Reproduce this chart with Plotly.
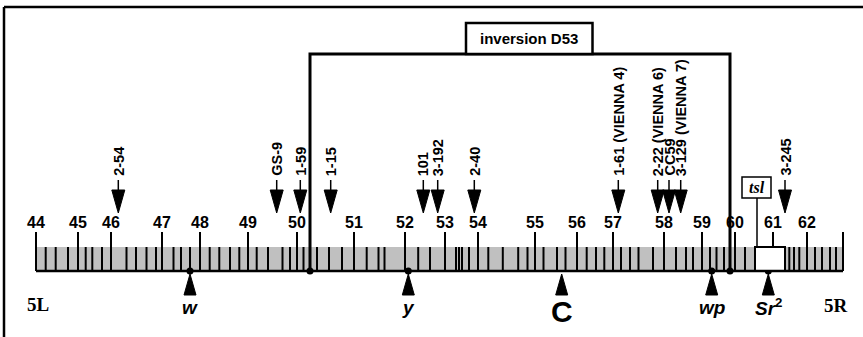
import plotly.graph_objects as go

# ---------------- data ----------------
# numbered divisions of the 5L/5R map and their positions along the map (map units)
division_labels = [str(n) for n in range(44, 63)]
division_pos = [36, 78, 111, 162, 200, 248, 297, 354, 405, 445, 478, 535, 577, 613, 664, 702, 735, 773, 807]
map_end = 843

# sub-division band boundaries
band_pos = [45.7, 55.7, 68, 85.7, 92.3, 102, 126.5, 136, 146.5, 156, 173.5, 181, 190,
            209.7, 219.3, 230, 239.3, 256.7, 268, 282.5, 290, 303.5, 317, 329, 342,
            366.7, 378.5, 384.5, 418.2, 430, 456, 459, 462, 469, 488.3, 502.8, 518.2,
            527.5, 543.5, 557, 565.5, 586.7, 596, 604.3, 621, 630, 638.5, 653, 676,
            686, 693, 710, 716.5, 724, 745, 789.3, 794, 799.3, 815, 822, 830, 836]

# insertion sites (arrows above the map)
insert_labels = ["2-54", "GS-9", "1-59", "1-15", "101", "3-192", "2-40",
                 "1-61 (VIENNA 4)", "2-22 (VIENNA 6)", "CC59", "3-129 (VIENNA 7)", "3-245"]
insert_pos = [118.3, 276.7, 300.3, 330.7, 423.3, 437.7, 474.3, 618.3, 657.7, 669, 680.7, 785]

# genetic markers (arrows below the map)
marker_labels = ["<i>w</i>", "<i>y</i>", "C", "<i>wp</i>", "<i>Sr</i><sup>2</sup>"]
marker_pos = [190, 408.3, 561.7, 711.7, 768.3]
marker_dot = [True, True, False, True, True]

# inversion D53 breakpoints
inversion_label = "inversion D53"
inversion_pos = [310, 730]

# tsl locus
tsl_label = "tsl"
tsl_span = [755, 785]

arm_labels = ["5L", "5R"]

# ---------------- geometry / style ----------------
BASE_Y = 271
BAND_TOP = 247
MAJOR_TOP = 232
GRAY = "#c0c0c0"
FONT = "Liberation Sans"
SERIF = "Liberation Serif"

fig = go.Figure()
shapes = []
ann = []

# frame (top and left border)
shapes.append(dict(type="line", x0=4, x1=863, y0=7, y1=7, line=dict(color="black", width=2.5)))
shapes.append(dict(type="line", x0=4, x1=4, y0=7, y1=337, line=dict(color="black", width=2.5)))

# gray band
shapes.append(dict(type="rect", x0=division_pos[0], x1=map_end, y0=BAND_TOP, y1=BASE_Y,
                   fillcolor=GRAY, line=dict(width=0), layer="below"))

# ticks
tx, ty = [], []
for p in band_pos:
    tx += [p, p, None]
    ty += [BAND_TOP, BASE_Y, None]
for p in division_pos + [map_end]:
    tx += [p, p, None]
    ty += [MAJOR_TOP, BASE_Y, None]
fig.add_trace(go.Scatter(x=tx, y=ty, mode="lines", line=dict(color="black", width=2),
                         hoverinfo="skip", showlegend=False))

# tsl white box on map
shapes.append(dict(type="rect", x0=tsl_span[0], x1=tsl_span[1], y0=BAND_TOP, y1=BASE_Y,
                   fillcolor="white", line=dict(color="black", width=2)))
# tsl label box + connector
tsl_x = tsl_span[0] + 2
shapes.append(dict(type="line", x0=tsl_x, x1=tsl_x, y0=198, y1=BAND_TOP, line=dict(color="black", width=1.5)))
shapes.append(dict(type="rect", x0=742, x1=771, y0=177, y1=198, fillcolor="white",
                   line=dict(color="black", width=1.5)))
ann.append(dict(x=756.5, y=187.5, text="<b><i>" + tsl_label + "</i></b>", showarrow=False,
                font=dict(family=SERIF, size=16, color="black"), xanchor="center", yanchor="middle"))

# baseline
shapes.append(dict(type="line", x0=division_pos[0], x1=map_end, y0=BASE_Y, y1=BASE_Y,
                   line=dict(color="black", width=2.5)))

# division numbers
for lab, p in zip(division_labels, division_pos):
    ann.append(dict(x=p, y=222, text="<b>" + lab + "</b>", showarrow=False,
                    font=dict(family=FONT, size=16, color="black"), xanchor="center", yanchor="middle"))

# inversion bracket
ix = [inversion_pos[0], inversion_pos[0], inversion_pos[1], inversion_pos[1]]
iy = [BASE_Y, 54, 54, BASE_Y]
fig.add_trace(go.Scatter(x=ix, y=iy, mode="lines", line=dict(color="black", width=3),
                         hoverinfo="skip", showlegend=False))
shapes.append(dict(type="rect", x0=466, x1=592.5, y0=23, y1=54, fillcolor="white",
                   line=dict(color="black", width=2.5)))
ann.append(dict(x=529, y=38.5, text="<b>" + inversion_label + "</b>",
                showarrow=False, font=dict(family=FONT, size=15, color="black"),
                xanchor="center", yanchor="middle"))

# insertion arrows (down)
TIP = 213
TRI_TOP = 190
HALF_W = 6.5
px, py, sx, sy = [], [], [], []
for p in insert_pos:
    px += [p - HALF_W, p + HALF_W, p, p - HALF_W, None]
    py += [TRI_TOP, TRI_TOP, TIP, TRI_TOP, None]
    sx += [p, p, None]
    sy += [180, TRI_TOP, None]
fig.add_trace(go.Scatter(x=sx, y=sy, mode="lines", line=dict(color="black", width=1.5),
                         hoverinfo="skip", showlegend=False))
fig.add_trace(go.Scatter(x=px, y=py, mode="lines", fill="toself", fillcolor="black",
                         line=dict(color="black", width=1), hoverinfo="skip", showlegend=False))
for lab, p in zip(insert_labels, insert_pos):
    ann.append(dict(x=p, y=178, text="<b>" + lab + "</b>", showarrow=False, textangle=-90,
                    font=dict(family=FONT, size=14.5, color="black"), xanchor="center", yanchor="bottom"))

# marker arrows (up)
UTIP = 274
UBASE = 295
mx, my = [], []
dx, dy = [], []
for p, d in zip(marker_pos, marker_dot):
    mx += [p - 6, p + 6, p, p - 6, None]
    my += [UBASE, UBASE, UTIP, UBASE, None]
    if d:
        dx.append(p)
        dy.append(BASE_Y)
fig.add_trace(go.Scatter(x=mx, y=my, mode="lines", fill="toself", fillcolor="black",
                         line=dict(color="black", width=1), hoverinfo="skip", showlegend=False))
dx += inversion_pos
dy += [BASE_Y, BASE_Y]
fig.add_trace(go.Scatter(x=dx, y=dy, mode="markers", marker=dict(color="black", size=7),
                         hoverinfo="skip", showlegend=False))
for lab, p in zip(marker_labels, marker_pos):
    big = lab == "C"
    ann.append(dict(x=p, y=311 if big else 307, text="<b>" + lab + "</b>", showarrow=False,
                    font=dict(family=FONT, size=30 if big else 19, color="black"),
                    xanchor="center", yanchor="middle"))

# arm labels
ann.append(dict(x=38, y=304, text="<b>" + arm_labels[0] + "</b>", showarrow=False,
                font=dict(family=SERIF, size=19, color="black"), xanchor="center", yanchor="middle"))
ann.append(dict(x=836, y=305, text="<b>" + arm_labels[1] + "</b>", showarrow=False,
                font=dict(family=SERIF, size=19, color="black"), xanchor="center", yanchor="middle"))

fig.update_layout(
    width=863, height=337, autosize=False,
    margin=dict(l=0, r=0, t=0, b=0),
    paper_bgcolor="white", plot_bgcolor="white",
    xaxis=dict(range=[0, 863], visible=False, fixedrange=True),
    yaxis=dict(range=[337, 0], visible=False, fixedrange=True),
    shapes=shapes, annotations=ann, showlegend=False,
)
fig.write_html("out.html", config={"displayModeBar": False},
               post_script="document.body.style.margin='0';document.body.style.overflow='hidden';")
